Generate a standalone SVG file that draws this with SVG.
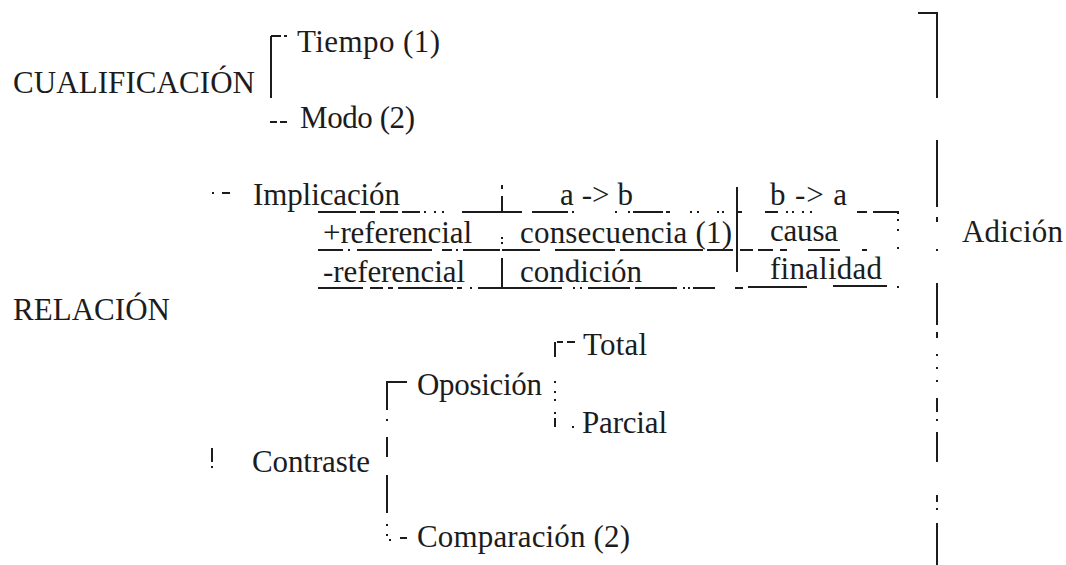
<svg xmlns="http://www.w3.org/2000/svg" width="1066" height="565" viewBox="0 0 1066 565">
<style>
text{font-family:"Liberation Serif","Times New Roman",serif;font-size:31px;fill:#1c1c1c}
.ln{fill:none;stroke:#1c1c1c;stroke-width:2;stroke-linecap:butt}
</style>
<rect width="1066" height="565" fill="#fff"/>
<g id="connectors">
<path class="ln" d="M271 36 V98 M271 36 H281 M284 36 H287 M270 122 H277 M280 122 H287"/>
<path class="ln" d="M918 13 H937 V98 M937 140 V207 M937 217 V222 M937 249 V251 M937 283 V325 M937 332 V338 M937 354 V356 M937 367 V369 M937 380 V382 M937 398 V412 M937 419 V421 M937 432 V462 M937 495 V502 M937 508 V510 M937 523 V565"/>
<path class="ln" d="M212 193 h2 M222 193 H230"/>
<path class="ln" d="M318 212 H356 M360 212 H375 M380 212 H398 M402 212 H420 M424 212 h2 M434 212 h2 M442 212 h2 M462 212 H522 M532 212 H568 M572 212 h2 M615 212 h2 M628 212 h2 M633 212 H663 M666 212 H670 M690 212 h2 M697 212 h2 M717 212 h2 M722 212 h2 M737 212 H742 M765 212 H778 M786 212 h2 M792 212 h2 M802 212 h2 M810 212 h2 M857 212 H867 M873 212 H898 V214 M898 219 v2 M898 229 v2 M898 247 v2 M898 286 v2"/>
<path class="ln" d="M502 185 V189 M502 196 V212 M502 237 V239 M502 242 V244 M502 258 V289"/>
<path class="ln" d="M737 187 V272"/>
<path class="ln" d="M318 250 H343 M348 250 h2 M357 250 H432 M442 250 H452 M456 250 h2 M463 250 H500 M502 250 H540 M555 250 H615 M620 250 H703 M707 250 H733 M740 250 H753 M758 250 H773 M780 250 H787 M808 250 H840 M862 250 H867"/>
<path class="ln" d="M318 288 H363 M370 288 H383 M388 288 H393 M398 288 H453 M457 288 H462 M470 288 h2 M478 288 H562 M573 288 h2 M580 288 h2 M588 288 H630 M635 288 H677 M683 288 h2 M688 288 h2 M693 288 H715 M735 288 H743 M748 287 H807 M833 286 H887"/>
<path class="ln" d="M407 382 H387 V410 M387 419 v2 M387 437 V457 M387 475 V513 M387 524 v2 M387 534 v2 M389 540 h2 M400 538 H407"/>
<path class="ln" d="M575 342 H567 M563 342 H557 M555 342 V357 M555 381 v2 M555 391 v2 M555 399 v2 M555 412 v2 M555 418 V427 M572 427 h2"/>
<path class="ln" d="M212 448 V462 M212 466 v2"/>
</g>
<g id="n-cualificacion"><text x="13" y="93" textLength="242">CUALIFICACIÓN</text></g>
<g id="n-tiempo"><text x="297" y="52" textLength="143">Tiempo (1)</text></g>
<g id="n-modo"><text x="300" y="128" textLength="115">Modo (2)</text></g>
<g id="n-implicacion"><text x="253" y="205" textLength="147">Implicación</text></g>
<g id="n-ab"><text x="560" y="205" textLength="73">a -&gt; b</text></g>
<g id="n-ba"><text x="770" y="205" textLength="77">b -&gt; a</text></g>
<g id="n-mas-ref"><text x="323" y="243" textLength="149">+referencial</text></g>
<g id="n-consecuencia"><text x="520" y="243" textLength="212">consecuencia (1)</text></g>
<g id="n-causa"><text x="770" y="241" textLength="68">causa</text></g>
<g id="n-menos-ref"><text x="323" y="282" textLength="142">-referencial</text></g>
<g id="n-condicion"><text x="520" y="282" textLength="122">condición</text></g>
<g id="n-finalidad"><text x="770" y="279" textLength="112">finalidad</text></g>
<g id="n-adicion"><text x="962" y="242" textLength="101">Adición</text></g>
<g id="n-relacion"><text x="13" y="320" textLength="157">RELACIÓN</text></g>
<g id="n-total"><text x="583" y="355" textLength="64">Total</text></g>
<g id="n-oposicion"><text x="417" y="395" textLength="125">Oposición</text></g>
<g id="n-parcial"><text x="582" y="433" textLength="85">Parcial</text></g>
<g id="n-contraste"><text x="252" y="472" textLength="118">Contraste</text></g>
<g id="n-comparacion"><text x="417" y="547" textLength="213">Comparación (2)</text></g>
</svg>
